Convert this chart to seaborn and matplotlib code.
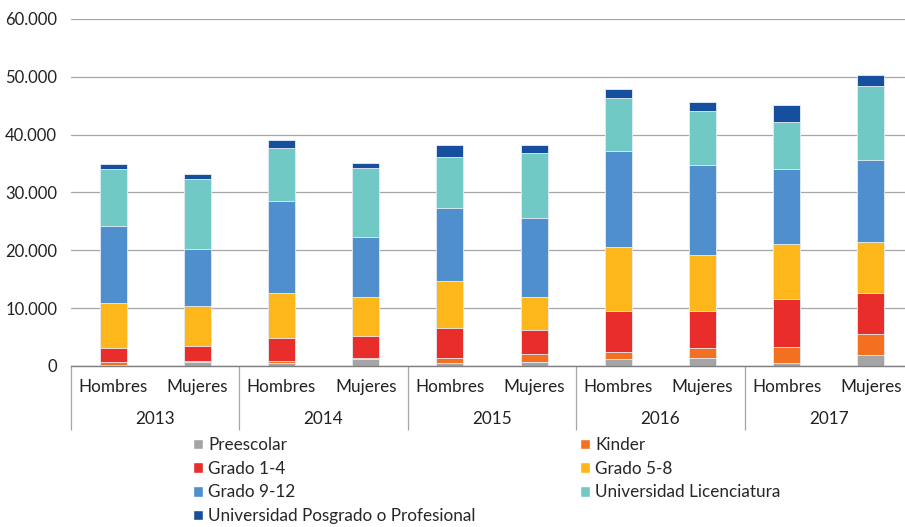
import pandas as pd
import seaborn as sns
from matplotlib import pyplot as plt
from matplotlib.patches import Patch
from matplotlib.ticker import FuncFormatter

sns.set_theme(style="white")
plt.rcParams['font.family'] = ['Lato', 'DejaVu Sans']

years = ["2013", "2014", "2015", "2016", "2017"]
sexes = ["Hombres", "Mujeres"]

levels = [
    "Preescolar",
    "Kinder",
    "Grado 1-4",
    "Grado 5-8",
    "Grado 9-12",
    "Universidad Licenciatura",
    "Universidad Posgrado o Profesional",
]
colors = ["#A5A5A5", "#F37021", "#E92D2A", "#FDB71A", "#4F8FCD", "#70C9C4", "#164F9E"]

# one value per bar: 2013 H, 2013 M, 2014 H, ... 2017 M
preescolar = [150, 640, 580, 1210, 460, 750, 1210, 1380, 520, 1900]
kinder = [600, 230, 290, 120, 870, 1330, 1210, 1730, 2710, 3580]
grado_1_4 = [2420, 2590, 4030, 3920, 5240, 4090, 7040, 6350, 8310, 7200]
grado_5_8 = [7780, 6870, 7730, 6690, 8080, 5710, 11130, 9740, 9570, 8770]
grado_9_12 = [13250, 9970, 15970, 10430, 12750, 13780, 16660, 15630, 12920, 14190]
licenciatura = [9800, 12050, 9170, 11830, 8820, 11140, 9170, 9340, 8130, 12690]
posgrado = [900, 850, 1330, 870, 2020, 1380, 1450, 1500, 2940, 2070]

series = [preescolar, kinder, grado_1_4, grado_5_8, grado_9_12, licenciatura, posgrado]

bars = [f"{y} {s}" for y in years for s in sexes]
df = pd.DataFrame({lvl: vals for lvl, vals in zip(levels, series)}, index=bars)
cum = df.cumsum(axis=1)

FS = 12.3

fig = plt.figure(figsize=(9.05, 5.27), dpi=100)
ax = fig.add_axes([71 / 905, 1 - 366 / 527, 842 / 905, 347 / 527])

# stacked bars: draw cumulative totals from the top layer down
for lvl, col in reversed(list(zip(levels, colors))):
    sns.barplot(x=cum.index, y=cum[lvl].values, order=bars, color=col,
                width=0.32, edgecolor="#E8EEF5", linewidth=0.6, ax=ax,
                saturation=1)

ax.set_ylim(0, 60000)
ax.set_xlim(-0.5, len(bars) - 0.5)
ax.set_yticks(range(0, 60001, 10000))
ax.yaxis.set_major_formatter(FuncFormatter(lambda v, p: f"{int(v):,}".replace(",", ".")))
ax.tick_params(axis="y", length=0, pad=10, labelsize=12, labelcolor="#222222")
ax.grid(axis="y", color="#A6A6A6", linewidth=0.9)
ax.set_axisbelow(True)
for side in ["left", "right", "top"]:
    ax.spines[side].set_visible(False)
ax.spines["bottom"].set_color("#7F7F7F")
ax.spines["bottom"].set_linewidth(1.0)
ax.set_xticks([])
ax.set_xlabel("")
ax.set_ylabel("")

# two-level category axis
xt = ax.get_xaxis_transform()
seps = [i * 2 - 0.5 for i in range(len(years) + 1)]
ax.vlines(seps, -0.184, 0, transform=xt, color="#A6A6A6", linewidth=0.9, clip_on=False)
for i, lab in enumerate(bars):
    ax.text(i, -0.06, lab.split()[1], transform=xt, ha="center", va="center",
            fontsize=FS, color="#222222")
for j, y in enumerate(years):
    ax.text(j * 2 + 0.5, -0.153, y, transform=xt, ha="center", va="center",
            fontsize=FS, color="#222222")

# legend in row-major order across two columns
handles = [Patch(facecolor=c, label=l) for l, c in zip(levels, colors)]
order = [0, 2, 4, 6, 1, 3, 5]
fig.legend([handles[k] for k in order], [levels[k] for k in order],
           ncol=2, loc="upper left", bbox_to_anchor=(193 / 905, 1 - 437 / 527),
           frameon=False, fontsize=FS, handlelength=0.6, handleheight=0.6,
           handletextpad=0.3, columnspacing=6.1, labelspacing=0.45,
           borderpad=0, borderaxespad=0)

fig.savefig("out.png", dpi=100)
